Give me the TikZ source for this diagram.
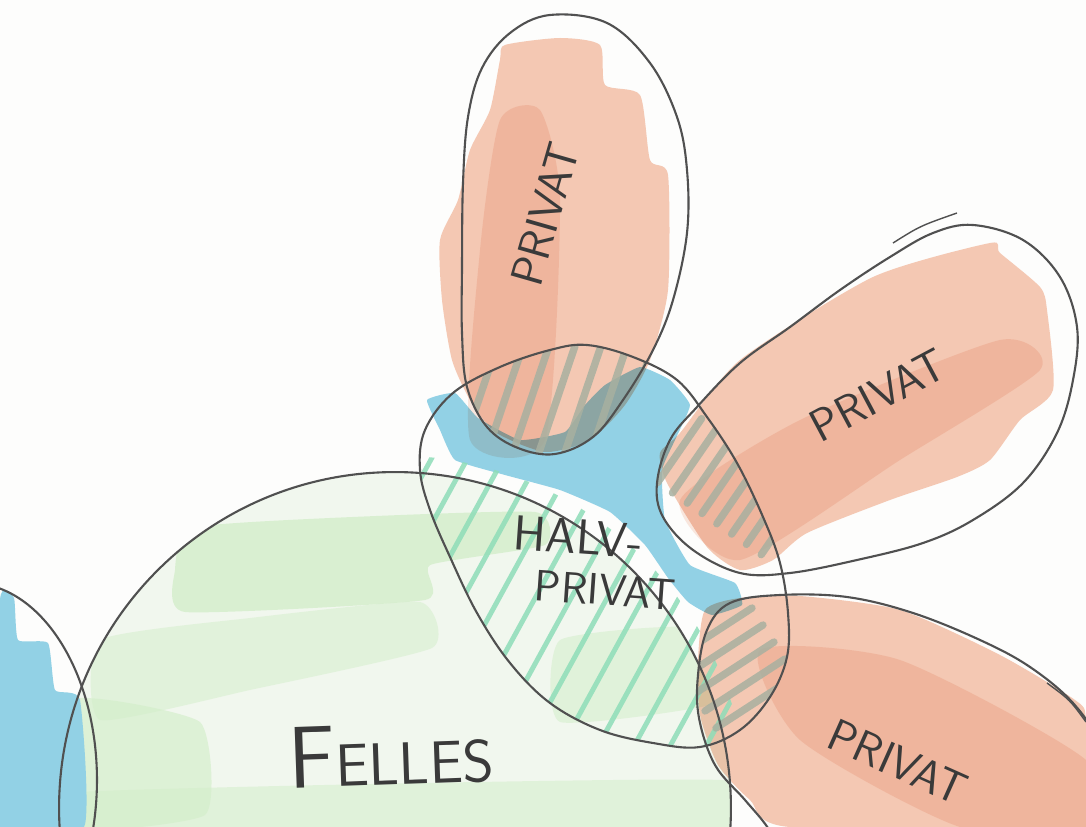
\documentclass[tikz,border=0pt]{standalone}
\usepackage{fontspec}
\definecolor{paper}{HTML}{FDFDFC}
\definecolor{ink}{HTML}{505050}
\definecolor{txt}{HTML}{3A3A3A}
\definecolor{salmon}{HTML}{F6CAB6}
\definecolor{salmondk}{HTML}{F1B39A}
\definecolor{bluem}{HTML}{92D1E5}
\definecolor{greenpale}{HTML}{F1F7EE}
\definecolor{greenm}{HTML}{D3EECA}
\definecolor{hatchgreen}{HTML}{8EDDB8}
\definecolor{hatchgray}{HTML}{A8B0A0}
\begin{document}
\begin{tikzpicture}[x=0.02cm,y=-0.02cm,
  outline/.style={draw=ink,line width=1.2pt},
  lbl/.style={text=txt,font=\sffamily\fontsize{26}{28}\selectfont,inner sep=0pt},
  ghatch/.style={draw=hatchgreen,line width=2.8pt,line cap=round,opacity=.85},
  shatch/.style={draw=hatchgray,line width=4.2pt,line cap=round,opacity=.85},
  band/.style={fill=greenm,opacity=.8}]
\useasboundingbox (0,0) rectangle (1086,827);
\clip (0,0) rectangle (1086,827);
\fill[paper] (0,0) rectangle (1086,827);

\def\pFel{(395,808) circle [radius=6.72cm]}
\def\pLeft{(-30,780) ellipse [x radius=2.54cm, y radius=3.94cm]}
\def\pTop{plot[smooth cycle,tension=.6] coordinates {(550,15) (607,23) (650,63) (677,117) (687,170) (687,233) (673,300) (653,350) (623,400) (593,437) (555,454) (518,448) (487,427) (467,387) (462,333) (462,267) (463,183) (468,117) (482,68) (510,33)}}
\def\pHalv{plot[smooth cycle,tension=.6] coordinates {(587,345) (633,357) (677,380) (707,417) (737,463) (763,517) (780,563) (788,613) (787,657) (770,697) (740,730) (700,747) (653,743) (600,730) (550,703) (510,663) (477,613) (450,557) (430,510) (420,470) (425,430) (453,393) (500,367) (550,350)}}
\def\pRight{plot[smooth cycle,tension=.6] coordinates {(973,225) (1023,240) (1060,277) (1077,327) (1073,380) (1057,433) (1023,483) (973,520) (923,543) (857,560) (790,573) (740,573) (693,550) (663,517) (657,483) (670,440) (697,407) (740,363) (790,327) (840,290) (890,257) (933,233)}}
\def\pBot{plot[smooth cycle,tension=.6] coordinates {(780,595) (847,597) (913,613) (980,640) (1030,667) (1073,703) (1100,745) (1112,800) (1100,870) (1000,920) (820,910) (785,860) (768,828) (745,800) (715,765) (699,718) (698,675) (707,630) (730,603)}}

% ---- Felles green wash
\begin{scope}
  \clip \pFel;
  \fill[greenpale] (0,400) rectangle (800,827);
  \fill[band] plot[smooth cycle,tension=.3] coordinates {(190,528) (330,518) (535,512) (545,545) (430,565) (425,600) (185,612) (175,570)};
  \fill[band,opacity=.5] plot[smooth cycle,tension=.3] coordinates {(100,640) (250,618) (420,602) (432,648) (250,690) (100,720)};
  \fill[band,opacity=.65] plot[smooth cycle,tension=.3] coordinates {(70,700) (200,722) (205,815) (60,827)};
  \fill[band,opacity=.55] plot[smooth cycle,tension=.3] coordinates {(560,640) (700,628) (728,700) (560,722)};
  \fill[band,opacity=.55] plot[smooth cycle,tension=.3] coordinates {(80,792) (720,780) (735,827) (70,827)};
\end{scope}

% ---- blue marker
\fill[bluem] plot[smooth cycle,tension=.3] coordinates {(0,600) (14,598) (18,640) (48,643) (55,690) (80,700) (84,827) (0,827)};
\fill[bluem] plot[smooth cycle,tension=.25] coordinates {(427,400) (455,393) (478,418) (520,440) (565,432) (585,405) (605,385) (640,367) (670,380) (690,405) (675,440) (662,470) (665,520) (690,565) (735,583) (742,605) (712,615) (688,602) (668,578) (645,545) (610,512) (560,490) (505,475) (455,460) (440,430)};

% ---- salmon marker
\begin{scope}[blend mode=multiply]
  \fill[salmon] plot[smooth cycle,tension=.4] coordinates {(505,45) (560,38) (600,45) (605,85) (640,95) (650,160) (668,175) (668,290) (650,360) (625,405) (590,440) (545,452) (495,432) (470,400) (452,360) (442,300) (440,240) (458,200) (470,150) (490,110) (500,60)};
  \fill[salmondk,opacity=.3] plot[smooth cycle,tension=.4] coordinates {(470,440) (480,250) (500,120) (540,110) (560,200) (545,440)};
  \fill[salmon] plot[smooth cycle,tension=.4] coordinates {(680,433) (740,360) (873,277) (990,243) (1000,253) (1040,287) (1047,310) (1053,390) (1020,420) (990,460) (957,477) (890,500) (807,533) (773,560) (740,570) (707,547) (667,483) (660,453)};
  \fill[salmondk,opacity=.3] plot[smooth cycle,tension=.4] coordinates {(680,500) (800,420) (1000,340) (1040,370) (900,460) (740,560)};
  \fill[salmon] plot[smooth cycle,tension=.4] coordinates {(705,610) (740,598) (800,596) (900,610) (1000,655) (1075,700) (1086,720) (1086,827) (790,827) (750,800) (718,765) (700,715) (698,660)};
  \fill[salmondk,opacity=.3] plot[smooth cycle,tension=.4] coordinates {(760,650) (900,660) (1086,760) (1086,827) (960,827) (800,740)};
\end{scope}

% ---- green hatching (halv-privat over felles)
\begin{scope}
  \clip \pHalv;
  \clip (395,808) circle [radius=7.05cm];
  \foreach \k in {0,...,16} {\draw[ghatch] ({250+36*\k},790) -- ++(230,-420);}
\end{scope}

% ---- grey hatching in overlaps
\begin{scope}
  \clip \pTop; \clip \pHalv;
  \foreach \k in {0,...,8} {\draw[shatch] ({455+26*\k},470) -- ++(42,-124);}
\end{scope}
\begin{scope}
  \clip \pRight; \clip \pHalv;
  \foreach \k in {0,...,9} {\draw[shatch] ({650+14.8*\k-22},{430+10.3*\k+32}) -- ++(44,-64);}
\end{scope}
\begin{scope}
  \clip \pBot; \clip \pHalv;
  \foreach \k in {0,...,6} {\draw[shatch] ({690+11*\k-40},{600+17*\k+26}) -- ++(80,-52);}
\end{scope}

% ---- outlines
\draw[outline] \pFel;
\draw[outline] \pLeft;
\draw[outline] \pHalv;
\draw[outline] \pTop;
\draw[outline] \pRight;
\draw[outline] \pBot;
\draw[outline,line width=.8pt] (893,243) .. controls (920,226) .. (957,213);
\draw[outline,line width=.8pt] (1047,683) .. controls (1070,700) .. (1086,722);

% ---- labels
\node[lbl,rotate=74] (tp) at (545,214) {PRIVAT};
\node[lbl,rotate=28] (rp) at (878,395) {PRIVAT};
\node[lbl,rotate=-24] (bp) at (898,762) {PRIVAT};
\node[lbl,rotate=-4,font=\sffamily\fontsize{28}{30}\selectfont] (hv) at (578,537) {HALV-};
\node[lbl,rotate=-4,font=\sffamily\fontsize{25}{28}\selectfont] (hp) at (605,590) {PRIVAT};
\node[lbl,rotate=2,anchor=base] (fe) at (392,785) {{\fontsize{50}{52}\selectfont F}{\fontsize{34}{36}\selectfont ELLES}};
\end{tikzpicture}
\end{document}
